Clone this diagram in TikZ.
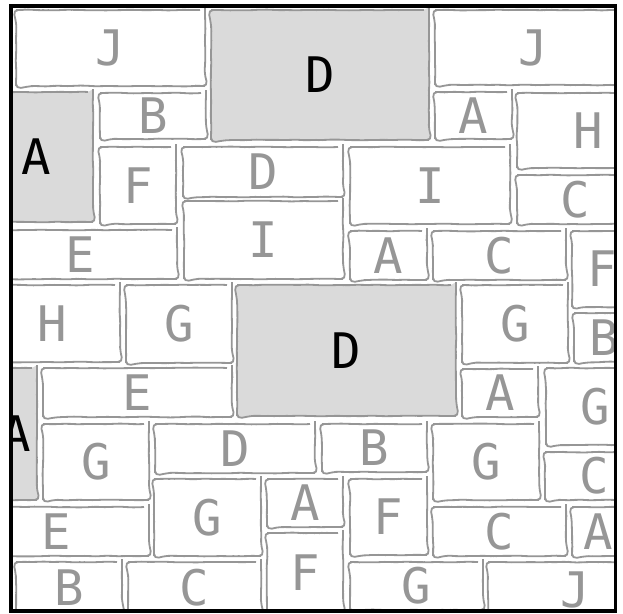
\documentclass[tikz,border=0pt]{standalone}
\usepackage{fontspec}
\newfontfamily\brickfont{DejaVu Sans Mono}
\usetikzlibrary{decorations.pathmorphing}
\definecolor{brickline}{RGB}{150,150,150}
\definecolor{brickfill}{RGB}{218,218,218}

\begin{document}
\begin{tikzpicture}[
  x=1pt, y=-1pt,
  brick/.style={draw=brickline, line width=1.8pt, rounded corners=5pt, fill=white,
    inner sep=0pt, outer sep=0pt, text=brickline, font=\brickfont\fontsize{49}{49}\selectfont,
    decorate, decoration={random steps, segment length=7pt, amplitude=0.45pt}},
  shaded/.style={brick, fill=brickfill, text=black}
]
  \pgfmathsetseed{7}
  \useasboundingbox (0,0) rectangle (623,613);

  % bricks, clipped by the frame
  \begin{scope}
    \clip (11,6) rectangle (615.5,611);
    \foreach \nm/\xa/\ya/\xb/\yb/\txt/\look in {
      jTop/16/10/205/86/J/brick, dTop/211/10/429/140/D/shaded, jRight/435/10/631/85/J/brick,
      aLeft/-21/92/93/222/A/shaded, bTop/100/93/206/139/B/brick, aTop/435/92/512/139/A/brick,
      hRight/517/93/659/168/H/brick, fTop/100/147/176/224/F/brick, dMid/183/147/343/197/D/brick,
      iRight/350/147/510/224/I/brick, cRight/517/175/633/224/C/brick, iLeft/184/201/343/279/I/brick,
      eLeft/-17/230/177/279/E/brick, aMid/350/231/427/280/A/brick, cMid/433/231/566/280/C/brick,
      fRight/572/231/632/307/F/brick, hLeft/-16/285/120/362/H/brick, gLeft/126/285/232/363/G/brick,
      dBig/237/285/456/416/D/shaded, gMidR/462/285/568/363/G/brick, bRight/574/313/634/362/B/brick,
      aLeftLow/-5/368/37/500/A/shaded, eMid/43/368/232/417/E/brick, aLow/462/369/538/417/A/brick,
      gRight/546/368/644/445/G/brick, gLow/43/424/149/500/G/brick, dLow/155/424/315/473/D/brick,
      bLow/322/424/427/472/B/brick, gLowR/433/424/539/500/G/brick, cLowR/545/452/643/500/C/brick,
      gBot/154/479/261/556/G/brick, aBot/267/479/343/527/A/brick, fLowR/350/479/427/555/F/brick,
      eLow/-37/507/149/556/E/brick, cBotR/433/507/566/556/C/brick, aBotR/572/507/624/556/A/brick,
      fBot/267/533/343/613/F/brick, bBot/16/562/122/614/B/brick, cBot/128/562/261/614/C/brick,
      gBotR/350/562/483/610/G/brick, jBot/488/562/662/618/J/brick}{
      \pgfmathsetmacro\brickw{\xb-\xa}
      \pgfmathsetmacro\brickh{\yb-\ya}
      \node[\look, minimum width=\brickw pt, minimum height=\brickh pt] (\nm)
        at ({(\xa+\xb)/2},{(\ya+\yb)/2}) {\txt};
    }
  \end{scope}

  % frame
  \draw[line width=3.5pt] (11,6) rectangle (615.5,611);
\end{tikzpicture}
\end{document}
